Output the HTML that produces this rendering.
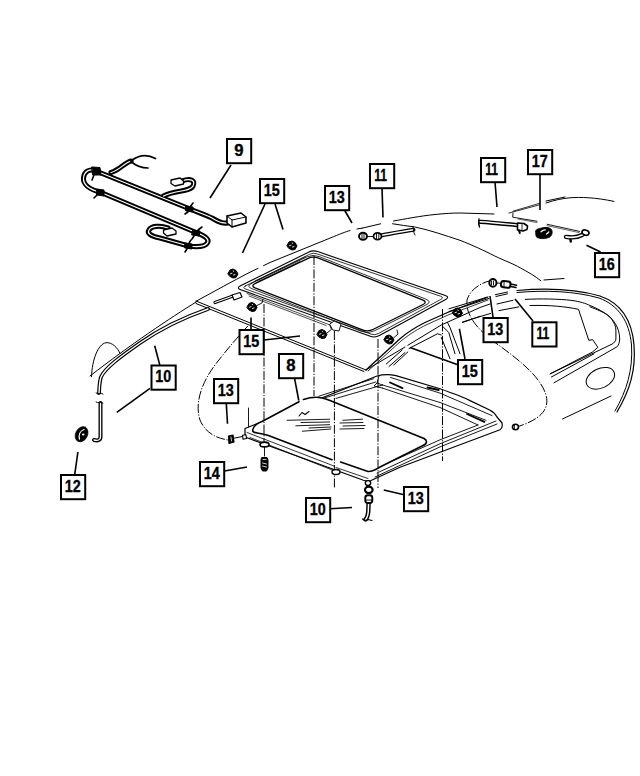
<!DOCTYPE html>
<html><head><meta charset="utf-8"><style>
html,body{margin:0;padding:0;background:#fff;}
svg{display:block;}
text{font-family:"Liberation Sans",sans-serif;font-weight:bold;font-size:16.6px;fill:#000;stroke:#000;stroke-width:0.35px;}
</style></head><body>
<svg width="640" height="776" viewBox="0 0 640 776">
<rect width="640" height="776" fill="#fff"/>
<g fill="none" stroke="#000" stroke-width="1" stroke-linecap="round" stroke-linejoin="round">
<path d="M231,222.5 C224,224 220,223 212,218 C206,215 200,213 190,209 L96,171 C89,168 84,172 83.5,178 C83,184 89,189.5 101,192.5 L196,232.5 C206,236 210,240 207,243.5 C204,247 196,247 188.5,246 L160,238 C150,236 147,233 149,230 C151,226 160,225 168,228" stroke-width="5.1"/>
<path d="M163.5,196 C175,190 190,192 193,186 C196,180 190,178 182,181" stroke-width="5.1"/>
<path d="M111,172.5 C120,170 124,163 131,161" stroke-width="5.1"/>
<path d="M231,222.5 C224,224 220,223 212,218 C206,215 200,213 190,209 L96,171 C89,168 84,172 83.5,178 C83,184 89,189.5 101,192.5 L196,232.5 C206,236 210,240 207,243.5 C204,247 196,247 188.5,246 L160,238 C150,236 147,233 149,230 C151,226 160,225 168,228" stroke="#fff" stroke-width="1.2"/>
<path d="M163.5,196 C175,190 190,192 193,186 C196,180 190,178 182,181" stroke="#fff" stroke-width="1.2"/>
<path d="M111,172.5 C120,170 124,163 131,161" stroke="#fff" stroke-width="1.2"/><path d="M131,161 C136,157 145,153 155.5,158.5" stroke-width="1.7"/>
<path d="M131,161.5 C135,165 140,168 148,168" stroke-width="1.7"/>
<path d="M92,167 L100,167.5 L101,175 L93,175 Z" fill="#000" stroke-width="1"/>
<path d="M97,189 L104,190 L104,196 L97,195 Z" fill="#000" stroke-width="1"/>
<path d="M186,206 L193,207 L193,212 L186,211 Z" fill="#000" stroke-width="1"/>
<path d="M193,230 L200,231 L199,236 L192,235 Z" fill="#000" stroke-width="1"/>
<path d="M185,243 L192,244 L192,249 L185,248 Z" fill="#000" stroke-width="1"/>
<path d="M227,216 L241,213 L246,217 L246,223 L232,227 L227,223 Z" fill="#fff" stroke-width="1.6"/>
<path d="M227,216 L232,220 L246,217 M232,220 L232,227" stroke-width="1"/>
<path d="M94,175 L92,180 M97,195 L94,198 M190,207 L193,203 M188,212 L185,214 M198,230 L202,227 M194,236 L192,239 M189,243 L191,240 M187,249 L185,252" stroke-width="1.6"/>
<path d="M171,180 L180,178 L183.5,181 L183.5,184 L175,186 L171,183.5 Z" fill="#fff" stroke-width="1.3"/>
<path d="M163.5,230 L172,228 L176,231 L176,234 L167,236 L163.5,233 Z" fill="#fff" stroke-width="1.3"/>
<!-- roof top line -->
<path d="M196,301.3 C215,291 232,281.5 250,272.2 L258,268.4 M263.5,265.7 L270,262.5 L300,250.3 L330,238.1 C340,234 345,232 350,230.5 M357,229 L362,228.2" />
<path d="M362,228.2 L380.6,223.8 M393.5,221 C405,219 420,216 435,214.5 C445,213.5 452,213 460,213 L494,214"/>
<path d="M508.75,213.1 L539.2,204.9 M513,211.2 L540,203.2" stroke-width="0.8"/>
<path d="M546,203 C555,200 562,198.5 570,197.8 C580,197 595,197.3 614,201.4 M546,201 L565,197"/>
<!-- weatherstrip 17 line -->
<path d="M513,213 L512.7,217.2 L537,221.25 M547.2,224.3 L579.7,231.4" stroke-width="0.9"/><path d="M518,219 L537,222.6 M547,225.6 L579,232.6" stroke-width="0.6"/>
<!-- side roof line -->
<path d="M392.5,223.75 C400,225 407,226 414.4,226.9 C430,230 445,235.5 460,240.3 C472,245 485,251 494.4,255.8 C505,261 514,264 520.1,267.8 C528,272 535,276 540.8,280.7"/>
<path d="M544,280 L564,278.5"/>
<!-- A pillar left -->
<path d="M197,301.5 C170,318 130,345 90,376"/>
<path d="M91.5,376.7 C92,360 98,344 106,342.7 C112,342 118,348 120,353.5"/>

<path d="M240.5,285.8 L308.5,252.2 Q313.0,250.0 317.7,251.6 L445.3,295.4 Q450.0,297.0 445.6,299.4 L379.4,335.6 Q375.0,338.0 370.3,336.3 L240.7,289.7 Q236.0,288.0 240.5,285.8 Z" stroke-width="1.1"/>
<path d="M245.5,285.9 L309.6,254.3 Q313.2,252.5 316.9,253.8 L440.5,296.2 Q444.3,297.5 440.8,299.4 L378.3,333.6 Q374.8,335.5 371.0,334.1 L245.6,289.0 Q241.9,287.7 245.5,285.9 Z" stroke-width="0.8"/>
<path d="M255.4,283.4 L307.6,258.6 Q313.0,256.0 318.6,258.2 L422.4,299.8 Q428.0,302.0 422.6,304.7 L373.4,329.3 Q368.0,332.0 362.4,329.8 L255.6,288.2 Q250.0,286.0 255.4,283.4 Z" stroke-width="1.25"/>
<path d="M251.8,283.2 L306.6,257.0 Q312.9,254.0 319.4,256.6 L425.9,299.2 Q432.4,301.8 426.1,304.9 L374.4,330.8 Q368.1,334.0 361.6,331.4 L252.0,288.7 Q245.5,286.2 251.8,283.2 Z" stroke-width="0.8"/>
<path d="M247,293.5 L330,325 M249,296 L326,325.5" stroke-width="0.7"/>
<path d="M255,281 L305,257 M258,281.5 L300,261.5" stroke-width="0.7"/>
<path d="M330,324 L334,321 L341,324 L339,331 L333,330 Z" fill="#fff" stroke-width="0.9"/>
<path d="M196,301 L366,370 M196,303.5 L364,371.5 M366,370 L405,347"/>
<path d="M208,309 C185,317 160,329 140,343 C120,357 105,368 101,377 C99.5,381 99.5,385 99,393" stroke-width="3.8"/><path d="M208,309 C185,317 160,329 140,343 C120,357 105,368 101,377 C99.5,381 99.5,385 99,393" stroke="#fff" stroke-width="1.4"/>
<path d="M100.5,403 L100.5,437 C100.5,440 98,441 94,440" stroke-width="4"/><path d="M100.5,403 L100.5,437 C100.5,440 98,441 94,440" stroke="#fff" stroke-width="1.3"/>
<path d="M96,393 C98,395 101,392 103,394 M96,402 C98,404 101,401 103,403" stroke-width="1"/>
<ellipse cx="81.6" cy="434.2" rx="8" ry="6" transform="rotate(-62 81.6 434.2)" fill="#000" stroke="#000" stroke-width="0.6"/>
<path d="M79.5,439 C78.5,435 80,431 84,429.5" stroke="#fff" stroke-width="1.3"/>
<ellipse cx="83.2" cy="434.5" rx="1.3" ry="1" fill="#fff" stroke="none"/>
<path d="M248.5,408 L248.5,427" stroke-width="0.9"/>
<path d="M215,302.5 L233,296" stroke-width="3.2"/><path d="M215,302.5 L233,296" stroke="#fff" stroke-width="1.1"/>
<path d="M232,295 L240,292.5 L242,297 L234,300 Z" fill="#fff" stroke-width="1.2"/>
<path d="M245,428.5 L377,376 Q386,373.5 396,375.6 L440,388.75 C455,394 465,398 470,400.6 L489.7,410 Q495,413 497,417 L502,423 Q503,428 500,429.7 L400,467.2 L371,480.5 Q367,481.5 363.4,480.3 L245,437 Z" stroke-width="1.2"/>
<path d="M390.6,377.5 L440,393.1 L492,415.6 M382.5,385 L440,402.5 L486,420.3 M382.5,388.1 L440,407.5 L478,425" stroke-width="0.9"/>
<path d="M318.75,396.25 L373.4,378.75 M323,398.4 L375.6,382 M336,398.4 L382.5,385" stroke-width="0.9"/>
<path d="M375,477 L440,446.9 L497,424 M377,473 L440,443.75 L496,421 M381,466 L440,439.8 L478,425" stroke-width="0.9"/>
<path d="M390,382.5 L402.5,388.1 M427.5,387.5 L438.75,390 M467,414 L484.4,421.9" stroke-width="1.8"/>
<path d="M379,376 L377,383 L382.5,385 M377,383 L374,386 L382.5,388.1" stroke-width="0.9"/>
<path d="M268.4,435.6 C258,432 251,434 253,429 C254,426 258,423 262,421.5 L299,401.7 C308,398 312,397.3 316,397.3 C320,397.3 323,398 330,400.5 L424,438.5 C428,441 427,444 422,446 L382,466 C376,469 373,472 368,471.5 Z" fill="#fff" stroke="none"/>
<path d="M268.4,435.6 C258,432 251,434 253,429 C254,426 258,423 262,421.5 L299,401.7 M303.4,399.5 C308,398 312,397.3 316,397.3 C320,397.3 323,398 330,400.5 L424,438.5 C428,441 427,444 422,446 L382,466 C376,469 373,472 368,471.5 L340.6,462 M332,459.7 L268.4,435.6" stroke-width="1.6"/>
<path d="M247,432.5 L334,466 M336,467.5 L368,478.5 M250,437.5 L336,471.5" stroke-width="0.8"/>
<path d="M299,416 L302,412.5 L305,414.5 L309,411.5" stroke-width="1.1"/>
<path d="M287,420.3 L329.7,419.2 M301,422.5 L329.7,422 M295.8,425.8 L329.7,424.7 M302.3,431.25 L330.8,429 M309,428 L331,427 M342.8,420.3 L362.5,419.2 M340,423 L363,422.5 M343,426 L365,425.5 M340,429 L364,428.5" stroke-width="0.9"/>
<path d="M366,370 L400,338.75 C410,330 418,326 425,322.5 L447.5,312.5 L487,297.3" stroke-width="1.3"/>
<path d="M368,371 L401,341 C411,333 419,328.5 426,325 L448,315 L488,300" stroke-width="0.8"/>
<path d="M386.25,364 L402.2,350 M389,366.5 L405,352.5 M393.75,365 L407.8,352"/>
<path d="M407.8,345.3 L441.25,325 L480,307.5 L490,304"/>
<path d="M409,348.5 L437.5,333.75 L441.25,335"/>
<path d="M447.5,322.5 L450,327.5 L460,353.75 M442.5,326.25 L448.75,332.5 L455,353.75 M441.25,337.5 L450,358.75"/>
<path d="M462.5,322.5 L480,316.25"/>
<path d="M264,304 L264,443" stroke-dasharray="9 1.6 1.2 1.6" stroke-width="1" stroke-linecap="butt"/>
<path d="M314,256 L314,396" stroke-dasharray="9 1.6 1.2 1.6" stroke-width="1" stroke-linecap="butt"/>
<path d="M334.4,331 L334.4,488" stroke-dasharray="9 1.6 1.2 1.6" stroke-width="1" stroke-linecap="butt"/>
<path d="M378,339 L378,488" stroke-dasharray="9 1.6 1.2 1.6" stroke-width="1" stroke-linecap="butt"/>
<path d="M442.5,309 L442.5,461" stroke-dasharray="9 1.6 1.2 1.6" stroke-width="1" stroke-linecap="butt"/>
<path d="M247.8,326 C235,340 225,352 215,365 C200,385 195,405 200,420 C205,432 215,438 228,440" stroke-dasharray="9 1.6 1.2 1.6" stroke-width="1" stroke-linecap="butt"/>
<path d="M491,280.5 C480,283 470,290 467,300 C465,315 478,330 495,342.5 C515,357 540,375 546,395 C550,410 540,420 515,427.5" stroke-dasharray="9 1.6 1.2 1.6" stroke-width="1" stroke-linecap="butt"/>
<path d="M327,333 L331.5,329.3 L330,325.9 M256,306 L262,303 L263,299 M393.5,338 L398,334 L397,330" stroke-width="0.9"/>
<path d="M228,273.5 L230,270.0 L233,269.0 L236,270.5 L238,274.0 L236,277.5 L233,278.0 L230,276.5 Z" fill="#000" stroke-width="1"/><path d="M230.5,273.7 L232,273.2 M233.2,271.0 L233.8,271.3 M233.5,275.0 L235,274.5" stroke="#fff" stroke-width="0.9"/>
<path d="M287,245.5 L289,242.0 L292,241.0 L295,242.5 L297,246.0 L295,249.5 L292,250.0 L289,248.5 Z" fill="#000" stroke-width="1"/><path d="M289.5,245.7 L291,245.2 M292.2,243.0 L292.8,243.3 M292.5,247.0 L294,246.5" stroke="#fff" stroke-width="0.9"/>
<path d="M247,307 L249,303.5 L252,302.5 L255,304 L257,307.5 L255,311 L252,311.5 L249,310 Z" fill="#000" stroke-width="1"/><path d="M249.5,307.2 L251,306.7 M252.2,304.5 L252.8,304.8 M252.5,308.5 L254,308" stroke="#fff" stroke-width="0.9"/>
<path d="M317,334 L319,330.5 L322,329.5 L325,331 L327,334.5 L325,338 L322,338.5 L319,337 Z" fill="#000" stroke-width="1"/><path d="M319.5,334.2 L321,333.7 M322.2,331.5 L322.8,331.8 M322.5,335.5 L324,335" stroke="#fff" stroke-width="0.9"/>
<path d="M384,339.5 L386,336.0 L389,335.0 L392,336.5 L394,340.0 L392,343.5 L389,344.0 L386,342.5 Z" fill="#000" stroke-width="1"/><path d="M386.5,339.7 L388,339.2 M389.2,337.0 L389.8,337.3 M389.5,341.0 L391,340.5" stroke="#fff" stroke-width="0.9"/>
<path d="M452.5,312.5 L454.5,309.0 L457.5,308.0 L460.5,309.5 L462.5,313.0 L460.5,316.5 L457.5,317.0 L454.5,315.5 Z" fill="#000" stroke-width="1"/><path d="M455.0,312.7 L456.5,312.2 M457.7,310.0 L458.3,310.3 M458.0,314.0 L459.5,313.5" stroke="#fff" stroke-width="0.9"/>
<ellipse cx="363" cy="236.2" rx="4" ry="3.5" fill="#fff" stroke-width="1.9"/><path d="M362,234 L362,238.5 M364,234 L364,238.5" stroke-width="0.9"/>
<ellipse cx="492.9" cy="282.9" rx="3.6" ry="3.8" fill="#fff" stroke-width="2"/><path d="M491.5,281 L491.5,285 M493.5,281 L493.5,285" stroke-width="0.9"/><path d="M497,283 L500.5,283.3" stroke-width="0.9"/>
<ellipse cx="515.5" cy="427" rx="3" ry="2.7" fill="#fff" stroke-width="1.6"/><path d="M514.5,425 L514.5,429" stroke-width="0.8"/>
<path d="M228.5,436 L233,435 L234,442 L229,443.5 Z" fill="#000" stroke-width="1.2"/><path d="M231,437 L231.5,441" stroke="#fff" stroke-width="0.8"/>
<path d="M234,438.2 L242.5,436.5" stroke-width="1"/><path d="M242.5,435.2 L246,434.8 L246.5,438.5 L243,439.2 Z" fill="#fff" stroke-width="1.1"/>
<path d="M381,235.5 C392,233.5 402,231.5 413.5,229.8" stroke-width="4"/><path d="M381,235.5 C392,233.5 402,231.5 413.5,229.8" stroke="#fff" stroke-width="1.5"/>
<ellipse cx="377.5" cy="236.2" rx="4" ry="3.4" fill="#fff" stroke-width="1.8"/><path d="M376.5,234 L376.5,238.5 M378.8,234 L378.8,238.5" stroke-width="0.9"/><path d="M367,236.5 L373.5,236.5" stroke-width="0.9"/><path d="M413,226.5 L414,233 L415,235" stroke-width="0.9"/>
<path d="M479,219 C478.5,222 478.5,225 479.5,227" stroke-width="1.4"/>
<path d="M480.2,221.8 C490,222.3 500.5,223.3 518.75,225.3" stroke-width="4.2"/><path d="M480.2,221.8 C490,222.3 500.5,223.3 518.75,225.3" stroke="#fff" stroke-width="1.4"/>
<path d="M517.5,223 L524,223.5 L527.5,226 L527,229.5 L523,231 L517.5,230 Z" fill="#fff" stroke-width="1.6"/><path d="M519,230.4 L519.8,233" stroke-width="2"/><path d="M522,224 L522,230" stroke-width="0.8"/>
<path d="M535.8,231 C536,229 539,228.5 541,228.2 C544,227 549,226.8 551.5,229.5 C553,232 552,236 549,237.5 C545,239 540,239 537,237.5 C535.5,236 535.5,233 535.8,231 Z" fill="#000" stroke="#000" stroke-width="0.8"/>
<path d="M541,231.8 C542.5,230.5 544.5,229.8 545.5,230 M546.5,234 C547.5,233 548.3,232.5 548.8,232" stroke="#fff" stroke-width="1.2"/>
<path d="M566,236.8 C572,237.8 578,237.2 582,235 C583.5,234 584.5,233 585.5,232.5" stroke-width="4.3"/><path d="M566,236.8 C572,237.8 578,237.2 582,235 C583.5,234 584.5,233 585.5,232.5" stroke="#fff" stroke-width="1.7"/>
<ellipse cx="585.5" cy="232.6" rx="3.6" ry="2.5" transform="rotate(20 585.5 232.6)" fill="#fff" stroke-width="1.7"/><path d="M570.5,239.5 L570.8,241.5" stroke-width="2.4"/>
<rect x="501" y="281.2" width="9.5" height="6.3" rx="2.6" fill="#fff" stroke-width="2" transform="rotate(8 505.7 284.3)"/><path d="M504,282 L504,287" stroke-width="0.9"/>
<path d="M510.5,284 L516.6,285.2 M510.5,286.4 L516,287.5" stroke-width="1.5"/>
<ellipse cx="264.5" cy="444.5" rx="4.5" ry="2.4" fill="#fff" stroke-width="1.6"/>
<path d="M264.5,447 L264.5,456" stroke-width="0.9"/>
<path d="M262,457.5 L267,457.5 L268,460 L268,468 L266.5,471 L262.5,471 L261,468 L261,460 Z" fill="#000" stroke-width="1"/>
<path d="M263,459.5 L266,459.5 M262.5,463 L266.5,464 M262.5,466 L266.5,467" stroke="#fff" stroke-width="0.8"/>
<ellipse cx="336" cy="472" rx="4" ry="2.5" fill="#fff" stroke-width="1.4"/>
<ellipse cx="368" cy="483" rx="2.7" ry="2.4" fill="#fff" stroke-width="1.4"/>
<ellipse cx="368.8" cy="489.8" rx="3.8" ry="3.2" fill="#fff" stroke-width="2.2"/>
<path d="M368.6,502 L368.3,511 C368,515 367,518 365.5,519.5" stroke-width="4.4"/><path d="M368.6,502 L368.3,511 C368,515 367,518 365.5,519.5" stroke="#fff" stroke-width="1.5"/>
<rect x="365.3" y="495.3" width="7" height="7.7" rx="2.5" fill="#fff" stroke-width="1.9"/><path d="M366,500 L372,500" stroke-width="0.9"/><path d="M362.5,519 C364,520.5 367,520.5 368,519.5 L372,520.5" stroke-width="1.1"/>
<path d="M449,308.8 L488,297 M449,311.5 L489,298.4 M462.5,322 L490.6,313.4"/>
<path d="M495.3,294.7 L507.5,292 M496,296.5 L507.5,293.8 M497,304 L513,300.3 M499,310.6 L518.8,306.9"/>
<path d="M517,290.5 C545,288 575,289 600,296 C620,303 632,320 634,345 C636,370 630,390 617,412" stroke-width="1.2"/>
<path d="M517,292.5 C545,290 574,291 599,298 C618,305 629.5,321 631.5,345 C633,370 627,390 615,411"/>
<path d="M525.3,299.4 C540,298.5 560,299 570.8,300.3 C580,301.5 586,303.5 590,305.5 C596,308 600,310 603,312 C608,315 611,318 612,319.6 C614,323 615.9,326 615.9,330 L615.9,339 C615.9,341 614,343 612,344.1 L550.2,373.8"/>
<path d="M590,306.75 C598,310 603,312 606.9,314.5 C611,318 613.5,320.5 615.2,323.5 C618,328 619.7,333 619.7,339 C619.7,342 618.7,345 617.2,346.7 L554,382.8"/>
<path d="M530,305.5 C550,305 565,306.5 578.5,309.3 L588.8,340.3 L592.7,339.6 L597.8,347.3 L592.7,351.9 L550.2,373.8 M551.4,377 L594,353.8"/>
<ellipse cx="600.4" cy="378.3" rx="15" ry="9.7" transform="rotate(-25 600.4 378.3)"/>
<path d="M562.5,419 L611,396"/>


</g>
<g stroke="#000" stroke-width="1.6">
<line x1="231" y1="165" x2="210" y2="198"/>
<line x1="265" y1="204" x2="242.5" y2="253"/>
<line x1="275" y1="204" x2="283" y2="229.5"/>
<line x1="344.5" y1="210" x2="352" y2="223"/>
<line x1="382" y1="188" x2="383" y2="217.5"/>
<line x1="495" y1="182" x2="497" y2="207"/>
<line x1="540" y1="174" x2="540" y2="210"/>
<line x1="586.5" y1="245.3" x2="600.6" y2="252"/>
<line x1="493" y1="317" x2="490" y2="296"/>
<line x1="533" y1="321" x2="515" y2="299"/>
<line x1="251" y1="330" x2="251" y2="317.5"/>
<line x1="264" y1="340" x2="300" y2="336"/>
<line x1="458.5" y1="365" x2="410" y2="347.5"/>
<line x1="465" y1="359" x2="459.4" y2="328.75"/>
<line x1="294.5" y1="378" x2="298.75" y2="400.5"/>
<line x1="159.8" y1="365" x2="154.7" y2="345.8"/>
<line x1="150" y1="388.3" x2="116.8" y2="412.3"/>
<line x1="74.8" y1="474" x2="77.9" y2="452"/>
<line x1="226.25" y1="403" x2="227.5" y2="423.75"/>
<line x1="224.5" y1="471" x2="247" y2="467"/>
<line x1="330" y1="508.75" x2="352" y2="507.5"/>
<line x1="403" y1="494.5" x2="383.75" y2="490"/>
</g>
<rect x="227" y="139" width="24.2" height="24.2" fill="#fff" stroke="#000" stroke-width="2"/>
<text x="238.9" y="155.9" text-anchor="middle" textLength="9.3" lengthAdjust="spacingAndGlyphs">9</text>
<rect x="260" y="179" width="24.2" height="24.2" fill="#fff" stroke="#000" stroke-width="2"/>
<text x="271.8" y="195.9" text-anchor="middle" textLength="16" lengthAdjust="spacingAndGlyphs">15</text>
<rect x="325" y="186" width="24.2" height="24.2" fill="#fff" stroke="#000" stroke-width="2"/>
<text x="336.8" y="202.9" text-anchor="middle" textLength="16" lengthAdjust="spacingAndGlyphs">13</text>
<rect x="370" y="164" width="24.2" height="24.2" fill="#fff" stroke="#000" stroke-width="2"/>
<text x="380.6" y="180.9" text-anchor="middle" textLength="12.8" lengthAdjust="spacingAndGlyphs">11</text>
<rect x="481" y="158" width="24.2" height="24.2" fill="#fff" stroke="#000" stroke-width="2"/>
<text x="491.6" y="174.9" text-anchor="middle" textLength="12.8" lengthAdjust="spacingAndGlyphs">11</text>
<rect x="528" y="150" width="24.2" height="24.2" fill="#fff" stroke="#000" stroke-width="2"/>
<text x="539.8" y="166.9" text-anchor="middle" textLength="16" lengthAdjust="spacingAndGlyphs">17</text>
<rect x="595" y="253" width="24.2" height="24.2" fill="#fff" stroke="#000" stroke-width="2"/>
<text x="606.8" y="269.9" text-anchor="middle" textLength="16" lengthAdjust="spacingAndGlyphs">16</text>
<rect x="483.5" y="318" width="24.2" height="24.2" fill="#fff" stroke="#000" stroke-width="2"/>
<text x="495.3" y="334.9" text-anchor="middle" textLength="16" lengthAdjust="spacingAndGlyphs">13</text>
<rect x="532.3" y="322.3" width="24.2" height="24.2" fill="#fff" stroke="#000" stroke-width="2"/>
<text x="542.9" y="339.2" text-anchor="middle" textLength="12.8" lengthAdjust="spacingAndGlyphs">11</text>
<rect x="239.5" y="330" width="24.2" height="24.2" fill="#fff" stroke="#000" stroke-width="2"/>
<text x="251.3" y="346.9" text-anchor="middle" textLength="16" lengthAdjust="spacingAndGlyphs">15</text>
<rect x="458" y="360" width="24.2" height="24.2" fill="#fff" stroke="#000" stroke-width="2"/>
<text x="469.8" y="376.9" text-anchor="middle" textLength="16" lengthAdjust="spacingAndGlyphs">15</text>
<rect x="279" y="354" width="24.2" height="24.2" fill="#fff" stroke="#000" stroke-width="2"/>
<text x="290.9" y="370.9" text-anchor="middle" textLength="9.3" lengthAdjust="spacingAndGlyphs">8</text>
<rect x="151.5" y="365.5" width="24.2" height="24.2" fill="#fff" stroke="#000" stroke-width="2"/>
<text x="163.3" y="382.4" text-anchor="middle" textLength="16" lengthAdjust="spacingAndGlyphs">10</text>
<rect x="214" y="379" width="24.2" height="24.2" fill="#fff" stroke="#000" stroke-width="2"/>
<text x="225.8" y="395.9" text-anchor="middle" textLength="16" lengthAdjust="spacingAndGlyphs">13</text>
<rect x="200" y="462" width="24.2" height="24.2" fill="#fff" stroke="#000" stroke-width="2"/>
<text x="211.8" y="478.9" text-anchor="middle" textLength="16" lengthAdjust="spacingAndGlyphs">14</text>
<rect x="61" y="475" width="24.2" height="24.2" fill="#fff" stroke="#000" stroke-width="2"/>
<text x="72.8" y="491.9" text-anchor="middle" textLength="16" lengthAdjust="spacingAndGlyphs">12</text>
<rect x="306" y="498" width="24.2" height="24.2" fill="#fff" stroke="#000" stroke-width="2"/>
<text x="317.8" y="514.9" text-anchor="middle" textLength="16" lengthAdjust="spacingAndGlyphs">10</text>
<rect x="404" y="487" width="24.2" height="24.2" fill="#fff" stroke="#000" stroke-width="2"/>
<text x="415.8" y="503.9" text-anchor="middle" textLength="16" lengthAdjust="spacingAndGlyphs">13</text>
</svg>
</body></html>
